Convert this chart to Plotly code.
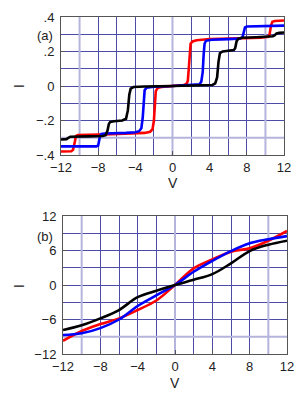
import plotly.graph_objects as go

# ---------- panel (a) data ----------
a_red_v = [-12, -10.9, -10.7, -10.6, -10.5, -10.4, -10.2, -8, -5, -3, -2.4, -2.15, -2.0, -1.9, -1.8, -1.6, -1.2, -0.5, 0,
           0.5, 1.2, 1.5, 1.65, 1.75, 1.85, 1.95, 2.15, 2.6, 4, 7, 9.5, 10.3, 10.45, 10.6, 10.75, 11, 12]
a_red_i = [-0.38, -0.378, -0.37, -0.35, -0.32, -0.29, -0.285, -0.282, -0.278, -0.272, -0.265, -0.25, -0.2, -0.1, -0.03, -0.012, -0.006, -0.002, 0,
           0.002, 0.006, 0.012, 0.03, 0.1, 0.2, 0.245, 0.258, 0.265, 0.272, 0.276, 0.28, 0.285, 0.3, 0.35, 0.372, 0.377, 0.38]

a_blue_v = [-12, -8.2, -8.0, -7.9, -7.8, -7.65, -7.3, -5, -4, -3.6, -3.35, -3.2, -3.1, -3.0, -2.8, -2, 0,
            2, 2.9, 3.1, 3.25, 3.35, 3.45, 3.6, 4.2, 6, 7.3, 7.55, 7.7, 7.8, 8.0, 9, 12]
a_blue_i = [-0.35, -0.35, -0.345, -0.32, -0.29, -0.278, -0.275, -0.272, -0.268, -0.262, -0.245, -0.18, -0.08, -0.025, -0.01, -0.004, 0,
            0.004, 0.01, 0.025, 0.08, 0.18, 0.245, 0.262, 0.268, 0.272, 0.275, 0.285, 0.32, 0.34, 0.345, 0.347, 0.35]

a_black_v = [-12, -11.4, -11.2, -11.0, -9, -7.5, -7.2, -7.0, -6.85, -6.7, -6.3, -5.4, -5.0, -4.8, -4.65, -4.5, -4.2, -3, 0,
             3, 4.3, 4.6, 4.8, 4.95, 5.1, 5.4, 6.3, 6.6, 6.75, 6.9, 7.1, 7.5, 9, 10.8, 11.0, 11.2, 11.5, 12]
a_black_i = [-0.31, -0.308, -0.3, -0.294, -0.292, -0.29, -0.285, -0.26, -0.22, -0.208, -0.204, -0.2, -0.19, -0.14, -0.05, -0.015, -0.006, -0.003, 0,
             0.003, 0.006, 0.015, 0.05, 0.14, 0.19, 0.2, 0.204, 0.208, 0.22, 0.26, 0.275, 0.28, 0.283, 0.288, 0.295, 0.305, 0.308, 0.31]

# ---------- panel (b) data ----------
b_v = [-12, -10, -8, -6, -4, -2, 0, 2, 4, 6, 8, 10, 12]
b_red_i = [-9.7, -8.0, -6.8, -5.8, -4.35, -2.7, 0, 2.9, 4.46, 5.8, 6.4, 7.7, 9.4]
b_blue_i = [-8.7, -8.4, -7.5, -6.0, -3.65, -1.8, 0, 2.3, 4.2, 5.9, 7.25, 7.95, 8.5]
b_black_i = [-7.83, -7.0, -5.8, -4.35, -2.1, -1.0, 0, 0.9, 1.9, 3.77, 5.9, 7.0, 7.7]

# ---------- tick labels ----------
x_tickvals = [-12, -8, -4, 0, 4, 8, 12]
x_ticktext = ["\u221212", "\u22128", "\u22124", "0", "4", "8", "12"]
ya_tickvals = [-0.4, -0.2, 0, 0.2, 0.4]
ya_ticktext = ["\u2212.4", "\u2212.2", "0", ".2", ".4"]
yb_tickvals = [-12, -6, 0, 6, 12]
yb_ticktext = ["\u221212", "\u22126", "0", "6", "12"]

# lighter (blurred-looking) grid lines of the reference
light_x = [-10, 0, 10]
light_ya = [-0.3]
light_yb = [-9]

RED, BLUE, BLACK = "#ff0000", "#0000ff", "#000000"
GRID = "#4c4ca6"
LIGHT = "#b4b4dc"
AXC = "#555555"
FONT = "Liberation Sans, Arial, sans-serif"
LW = 2.6

fig = go.Figure()
for v, i, c in [(a_red_v, a_red_i, RED), (a_blue_v, a_blue_i, BLUE), (a_black_v, a_black_i, BLACK)]:
    fig.add_trace(go.Scatter(x=v, y=i, mode="lines", line=dict(color=c, width=LW),
                             xaxis="x", yaxis="y", showlegend=False))
for i, c in [(b_red_i, RED), (b_blue_i, BLUE), (b_black_i, BLACK)]:
    fig.add_trace(go.Scatter(x=b_v, y=i, mode="lines", line=dict(color=c, width=LW, shape="spline"),
                             xaxis="x2", yaxis="y2", showlegend=False))

def xax(domain, anchor):
    return dict(domain=domain, anchor=anchor, range=[-12, 12], tickmode="array",
                tickvals=x_tickvals, ticktext=x_ticktext,
                showgrid=True, gridcolor=GRID, gridwidth=1,
                minor=dict(tickmode="linear", tick0=0, dtick=2, showgrid=True, gridcolor=GRID, gridwidth=1,
                           ticks=""),
                showline=True, mirror=True, linecolor=AXC, linewidth=1,
                ticks="inside", ticklen=4, tickcolor=AXC, zeroline=False, automargin=False,
                tickfont=dict(family=FONT, size=13, color="#222"))

def yax(domain, anchor, rng, tv, tt, minor_dt):
    return dict(domain=domain, anchor=anchor, range=rng, tickmode="array",
                tickvals=tv, ticktext=tt,
                showgrid=True, gridcolor=GRID, gridwidth=1,
                minor=dict(tickmode="linear", tick0=0, dtick=minor_dt, showgrid=True, gridcolor=GRID, gridwidth=1,
                           ticks=""),
                showline=True, mirror=True, linecolor=AXC, linewidth=1,
                ticks="inside", ticklen=4, tickcolor=AXC, zeroline=False, automargin=False,
                ticklabelstandoff=3,
                tickfont=dict(family=FONT, size=13, color="#222"))

# page body has an 8px default margin: figure placed at (8,8)
OFF = 8
W, H = 300, 392
def px(x):
    return (x - OFF) / W
def py(y):
    return 1 - (y - OFF) / H

fig.update_layout(
    width=W, height=H, margin=dict(l=0, r=0, t=0, b=0, autoexpand=False),
    paper_bgcolor="white", plot_bgcolor="white",
    xaxis=xax([px(61), px(284)], "y"),
    yaxis=yax([py(155), py(17)], "x", [-0.4, 0.4], ya_tickvals, ya_ticktext, 0.1),
    xaxis2=xax([px(63), px(287)], "y2"),
    yaxis2=yax([py(354), py(216)], "x2", [-12, 12], yb_tickvals, yb_ticktext, 3),
    font=dict(family=FONT, size=13, color="#222"),
)

for xr, yr, ys, yrng in [("x", "y", light_ya, (-0.4, 0.4)), ("x2", "y2", light_yb, (-12, 12))]:
    for xv in light_x:
        fig.add_shape(type="line", xref=xr, yref=yr, x0=xv, x1=xv, y0=yrng[0], y1=yrng[1],
                      line=dict(color=LIGHT, width=2), layer="between")
    for yv in ys:
        fig.add_shape(type="line", xref=xr, yref=yr, x0=-12, x1=12, y0=yv, y1=yv,
                      line=dict(color=LIGHT, width=2), layer="between")

ann = [
    dict(text="V", x=px(173), y=py(183)),
    dict(text="V", x=px(175), y=py(383)),
    dict(text="I", x=px(19), y=py(86), textangle=-90),
    dict(text="I", x=px(19), y=py(286), textangle=-90),
    dict(text="(a)", x=px(45), y=py(36)),
    dict(text="(b)", x=px(45), y=py(236)),
]
for a in ann:
    fig.add_annotation(xref="paper", yref="paper", showarrow=False, xanchor="center", yanchor="middle",
                       font=dict(family=FONT, size=14 if a["text"] in ("V", "I") else 13, color="#222"), **a)

fig.write_html("out.html")
